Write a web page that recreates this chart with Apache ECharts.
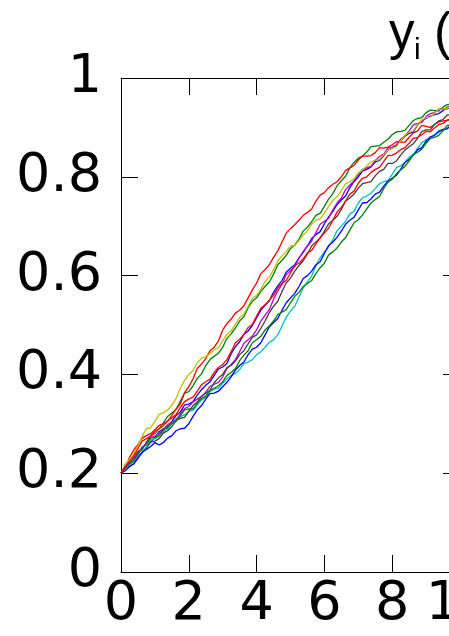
<!DOCTYPE html>
<html>
<head>
<meta charset="utf-8">
<script src="https://cdn.jsdelivr.net/npm/echarts@6/dist/echarts.min.js"></script>
<style>
  html, body { margin: 0; padding: 0; background: #fff; }
  #chart { width: 449px; height: 636px; }
</style>
</head>
<body>
<div id="chart"></div>
<script>
// Sample times t = 0, 0.125, ..., 10
const tValues = [0,0.125,0.25,0.375,0.5,0.625,0.75,0.875,1,1.125,1.25,1.375,1.5,1.625,1.75,1.875,2,2.125,2.25,2.375,2.5,2.625,2.75,2.875,3,3.125,3.25,3.375,3.5,3.625,3.75,3.875,4,4.125,4.25,4.375,4.5,4.625,4.75,4.875,5,5.125,5.25,5.375,5.5,5.625,5.75,5.875,6,6.125,6.25,6.375,6.5,6.625,6.75,6.875,7,7.125,7.25,7.375,7.5,7.625,7.75,7.875,8,8.125,8.25,8.375,8.5,8.625,8.75,8.875,9,9.125,9.25,9.375,9.5,9.625,9.75,9.875,10];

// Trajectories y_i(t), one array per realisation
const yBlue1 = [0.200,0.213,0.218,0.225,0.238,0.253,0.258,0.263,0.272,0.284,0.290,0.292,0.305,0.317,0.324,0.338,0.340,0.345,0.358,0.369,0.378,0.385,0.398,0.411,0.415,0.422,0.442,0.456,0.466,0.481,0.488,0.499,0.515,0.530,0.540,0.549,0.566,0.579,0.590,0.607,0.615,0.622,0.636,0.647,0.660,0.675,0.683,0.689,0.705,0.719,0.730,0.744,0.753,0.761,0.778,0.790,0.800,0.812,0.815,0.820,0.830,0.833,0.843,0.854,0.858,0.864,0.873,0.882,0.888,0.891,0.905,0.914,0.918,0.923,0.926,0.928,0.934,0.941,0.942,0.942,0.948];
const yGreen1 = [0.200,0.216,0.221,0.230,0.243,0.247,0.263,0.276,0.280,0.290,0.302,0.315,0.322,0.329,0.346,0.362,0.365,0.377,0.392,0.401,0.418,0.430,0.437,0.443,0.455,0.473,0.482,0.494,0.508,0.517,0.535,0.548,0.555,0.568,0.578,0.587,0.603,0.622,0.631,0.641,0.655,0.662,0.674,0.690,0.698,0.709,0.722,0.726,0.740,0.755,0.766,0.782,0.792,0.801,0.818,0.829,0.838,0.842,0.850,0.861,0.862,0.863,0.870,0.876,0.885,0.891,0.892,0.894,0.904,0.914,0.918,0.920,0.930,0.935,0.934,0.933,0.941,0.946,0.947,0.947,0.952];
const yRed1 = [0.200,0.210,0.232,0.247,0.258,0.271,0.276,0.280,0.288,0.297,0.300,0.305,0.317,0.330,0.340,0.363,0.375,0.391,0.412,0.421,0.432,0.448,0.455,0.468,0.490,0.503,0.512,0.524,0.530,0.539,0.555,0.571,0.585,0.604,0.612,0.622,0.637,0.650,0.668,0.686,0.695,0.703,0.712,0.722,0.728,0.735,0.751,0.763,0.768,0.778,0.785,0.790,0.800,0.813,0.818,0.823,0.834,0.842,0.842,0.843,0.849,0.859,0.858,0.860,0.865,0.871,0.870,0.870,0.880,0.889,0.893,0.904,0.902,0.900,0.906,0.911,0.913,0.914,0.920,0.928,0.925];
const yCyan = [0.200,0.212,0.217,0.228,0.236,0.241,0.254,0.267,0.270,0.275,0.284,0.289,0.300,0.311,0.314,0.318,0.325,0.327,0.338,0.348,0.354,0.365,0.370,0.372,0.382,0.391,0.398,0.402,0.410,0.422,0.425,0.430,0.440,0.446,0.455,0.465,0.470,0.480,0.498,0.516,0.528,0.538,0.556,0.575,0.588,0.599,0.620,0.636,0.648,0.658,0.673,0.691,0.700,0.710,0.725,0.730,0.747,0.758,0.761,0.767,0.776,0.786,0.790,0.792,0.805,0.819,0.822,0.829,0.840,0.845,0.858,0.869,0.875,0.877,0.885,0.894,0.895,0.899,0.905,0.903,0.912];
const yMagenta = [0.200,0.216,0.222,0.231,0.244,0.250,0.262,0.273,0.275,0.280,0.288,0.298,0.304,0.307,0.320,0.331,0.335,0.344,0.350,0.355,0.364,0.376,0.380,0.384,0.395,0.412,0.420,0.430,0.446,0.463,0.470,0.478,0.490,0.508,0.520,0.531,0.552,0.569,0.582,0.602,0.610,0.618,0.635,0.649,0.660,0.670,0.687,0.704,0.710,0.716,0.733,0.747,0.757,0.774,0.783,0.792,0.805,0.815,0.818,0.821,0.833,0.841,0.846,0.858,0.860,0.865,0.876,0.883,0.893,0.905,0.908,0.910,0.922,0.928,0.930,0.937,0.938,0.937,0.945,0.948,0.950];
const yOlive = [0.200,0.218,0.228,0.240,0.255,0.275,0.290,0.292,0.305,0.319,0.322,0.328,0.338,0.351,0.372,0.388,0.400,0.408,0.423,0.433,0.436,0.442,0.450,0.454,0.468,0.481,0.488,0.502,0.515,0.522,0.538,0.554,0.560,0.572,0.588,0.597,0.612,0.630,0.640,0.649,0.660,0.661,0.671,0.682,0.690,0.704,0.712,0.715,0.727,0.740,0.752,0.760,0.772,0.786,0.790,0.796,0.808,0.814,0.822,0.830,0.834,0.835,0.845,0.854,0.858,0.861,0.873,0.884,0.890,0.893,0.906,0.915,0.920,0.921,0.928,0.937,0.937,0.939,0.945,0.942,0.952];
const yGray = [0.200,0.210,0.214,0.219,0.232,0.242,0.250,0.263,0.265,0.270,0.281,0.286,0.294,0.307,0.311,0.313,0.325,0.337,0.344,0.356,0.362,0.368,0.383,0.393,0.400,0.414,0.418,0.427,0.440,0.448,0.462,0.475,0.480,0.493,0.508,0.525,0.538,0.548,0.568,0.585,0.595,0.609,0.620,0.630,0.644,0.660,0.668,0.676,0.690,0.705,0.712,0.720,0.734,0.751,0.757,0.765,0.777,0.786,0.788,0.790,0.802,0.811,0.815,0.827,0.827,0.832,0.844,0.854,0.861,0.867,0.878,0.892,0.895,0.895,0.906,0.913,0.916,0.925,0.926,0.929,0.935];
const yBlue2 = [0.200,0.205,0.213,0.219,0.230,0.243,0.248,0.254,0.262,0.257,0.262,0.271,0.276,0.286,0.290,0.291,0.300,0.315,0.328,0.337,0.350,0.361,0.362,0.366,0.375,0.384,0.395,0.409,0.418,0.425,0.440,0.451,0.455,0.464,0.480,0.496,0.505,0.513,0.530,0.545,0.555,0.564,0.578,0.594,0.600,0.609,0.622,0.628,0.645,0.661,0.668,0.678,0.690,0.704,0.712,0.718,0.733,0.747,0.748,0.755,0.765,0.769,0.781,0.791,0.797,0.803,0.815,0.829,0.835,0.844,0.855,0.859,0.872,0.881,0.884,0.891,0.896,0.897,0.906,0.916,0.915];
const yGreen2 = [0.200,0.213,0.219,0.225,0.240,0.251,0.258,0.271,0.272,0.276,0.287,0.295,0.300,0.305,0.316,0.328,0.330,0.330,0.342,0.351,0.356,0.368,0.372,0.377,0.385,0.398,0.404,0.412,0.428,0.439,0.448,0.464,0.470,0.477,0.490,0.498,0.508,0.521,0.526,0.531,0.545,0.558,0.566,0.578,0.584,0.590,0.604,0.616,0.625,0.642,0.648,0.656,0.668,0.677,0.692,0.707,0.713,0.723,0.735,0.747,0.754,0.760,0.776,0.789,0.795,0.806,0.814,0.821,0.832,0.845,0.850,0.856,0.868,0.878,0.880,0.884,0.893,0.904,0.905,0.908,0.915];
const yRed2 = [0.200,0.213,0.224,0.235,0.250,0.265,0.270,0.275,0.285,0.290,0.296,0.306,0.312,0.319,0.333,0.345,0.350,0.354,0.366,0.379,0.385,0.390,0.404,0.414,0.420,0.430,0.446,0.464,0.471,0.481,0.495,0.501,0.518,0.534,0.541,0.550,0.560,0.575,0.584,0.590,0.605,0.621,0.625,0.634,0.646,0.651,0.664,0.677,0.686,0.696,0.712,0.729,0.738,0.751,0.765,0.771,0.787,0.797,0.800,0.809,0.815,0.819,0.831,0.843,0.844,0.848,0.855,0.859,0.868,0.878,0.880,0.885,0.892,0.891,0.899,0.906,0.908,0.915,0.915,0.915,0.922];

// Axis ticks
const xTicks = [0, 2, 4, 6, 8, 10];
const yTicks = [0, 0.2, 0.4, 0.6, 0.8, 1];

// Classic line colour order
const trajectories = [
  { data: yBlue1,   color: '#0000ff' },
  { data: yGreen1,  color: '#008000' },
  { data: yRed1,    color: '#ff0000' },
  { data: yCyan,    color: '#00bfbf' },
  { data: yMagenta, color: '#bf00bf' },
  { data: yOlive,   color: '#bfbf00' },
  { data: yGray,    color: '#404040' },
  { data: yBlue2,   color: '#0000ff' },
  { data: yGreen2,  color: '#008000' },
  { data: yRed2,    color: '#ff0000' }
];

const FONT = 'DejaVu Sans';
const chart = echarts.init(document.getElementById('chart'), null, { renderer: 'canvas' });

const axisLine = { show: true, onZero: false, lineStyle: { color: '#000', width: 1 } };
const tickIn = { show: true, inside: true, length: 17, lineStyle: { color: '#000', width: 1 } };

chart.setOption({
  animation: false,
  backgroundColor: '#fff',
  grid: { left: 121, top: 78, width: 339, height: 494, containLabel: false, outerBoundsMode: 'none' },
  xAxis: [
    {
      type: 'value', position: 'bottom',
      min: xTicks[0], max: xTicks[xTicks.length - 1], interval: 2,
      axisLine, axisTick: tickIn, splitLine: { show: false },
      axisLabel: { show: true, margin: 6, color: '#000', fontFamily: FONT, fontSize: 54, hideOverlap: false }
    },
    {
      type: 'value', position: 'top',
      min: xTicks[0], max: xTicks[xTicks.length - 1], interval: 2,
      axisLine, axisTick: tickIn, splitLine: { show: false },
      axisLabel: { show: false }
    }
  ],
  yAxis: [
    {
      type: 'value', position: 'left',
      min: yTicks[0], max: yTicks[yTicks.length - 1], interval: 0.2,
      axisLine, axisTick: tickIn, splitLine: { show: false },
      axisLabel: { show: true, margin: 19, color: '#000', fontFamily: FONT, fontSize: 54 }
    },
    {
      type: 'value', position: 'right',
      min: yTicks[0], max: yTicks[yTicks.length - 1], interval: 0.2,
      axisLine, axisTick: tickIn, splitLine: { show: false },
      axisLabel: { show: false }
    }
  ],
  graphic: [
    { type: 'text', left: 389, top: 9, style: { text: 'y', font: '51px "Liberation Sans"', fill: '#000' } },
    { type: 'text', left: 414, top: 36, style: { text: 'i', font: '30px "Liberation Sans"', fill: '#000' } },
    { type: 'text', left: 434, top: 9, style: { text: '(t)', font: '51px "Liberation Sans"', fill: '#000' } }
  ],
  series: trajectories.map((tr) => ({
    type: 'line',
    xAxisIndex: 0, yAxisIndex: 0,
    showSymbol: false,
    silent: true,
    lineStyle: { color: tr.color, width: 1.3 },
    data: tValues.map((t, k) => [t, tr.data[k]])
  }))
});
</script>
</body>
</html>
